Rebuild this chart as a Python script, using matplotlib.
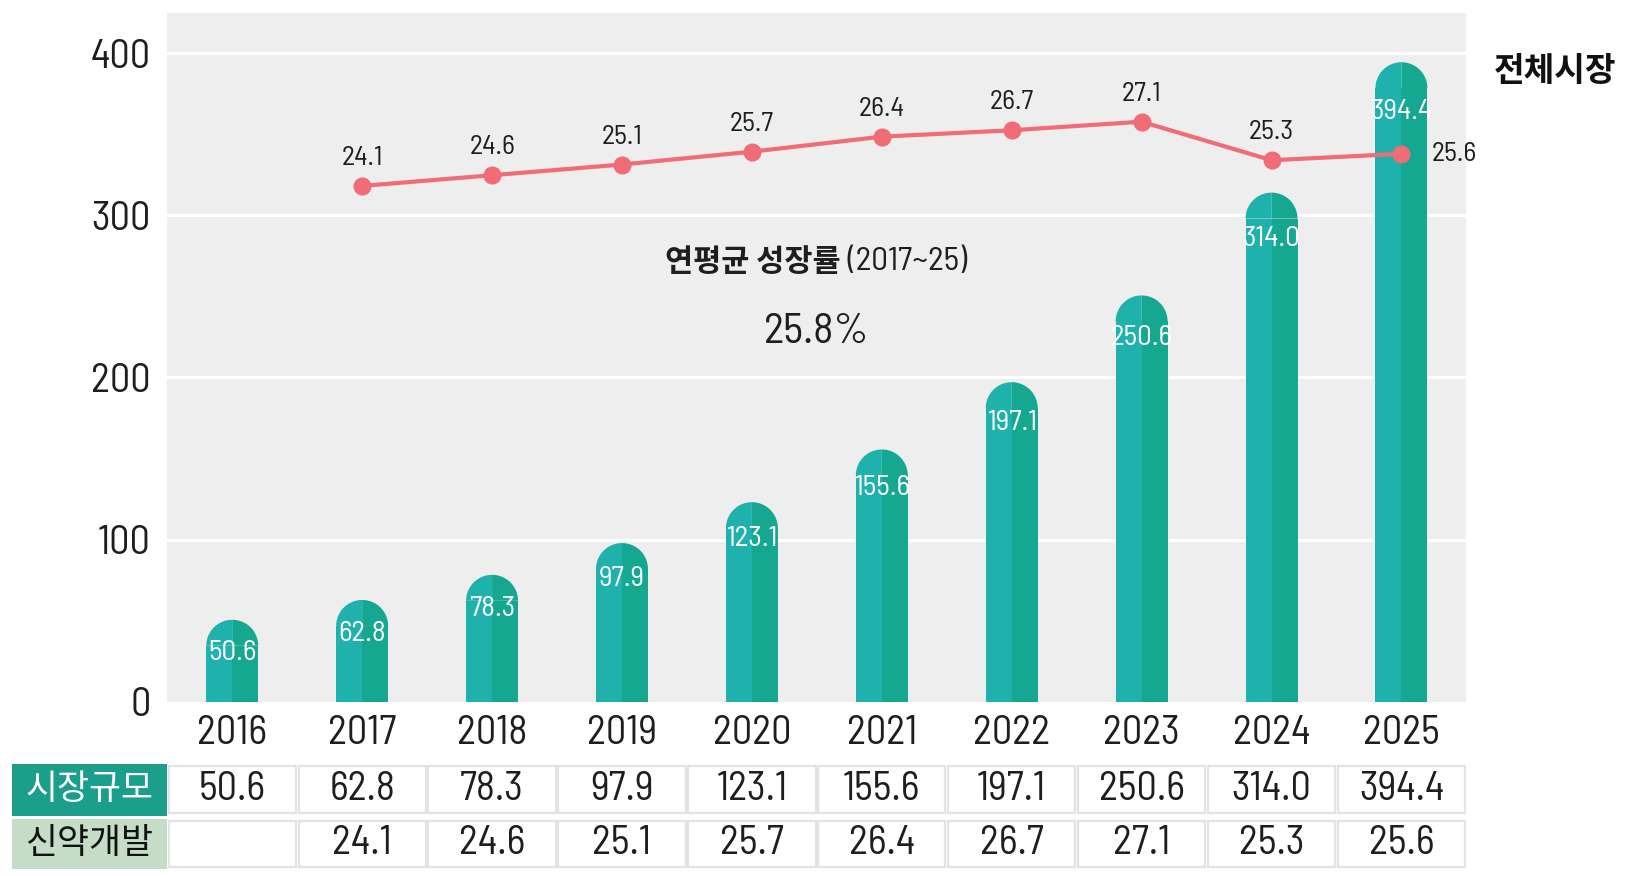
import matplotlib as ml
ml.use('Agg')
import numpy as np
import matplotlib.pyplot as plt
from matplotlib.patches import Polygon, Rectangle
from matplotlib.transforms import blended_transform_factory

num_font = ['Barlow Semi Condensed', 'Noto Sans CJK KR', 'DejaVu Sans']
kr_font = ['Noto Sans CJK KR', 'DejaVu Sans']
plt.rcParams['font.family'] = num_font

# Data
years = ['2016', '2017', '2018', '2019', '2020', '2021', '2022', '2023', '2024', '2025']
market = [50.6, 62.8, 78.3, 97.9, 123.1, 155.6, 197.1, 250.6, 314.0, 394.4]
drug_years = ['2017', '2018', '2019', '2020', '2021', '2022', '2023', '2024', '2025']
drug_share = [24.1, 24.6, 25.1, 25.7, 26.4, 26.7, 27.1, 25.3, 25.6]
row_labels = ['시장규모', '신약개발']
yticks = [0, 100, 200, 300, 400]

# Colours
bg = '#eeeeee'
bar_left = '#1fb1ab'
bar_right = '#16a790'
line_col = '#f06c76'
lab1_col = '#1b9e8b'
lab2_col = '#c5dcc7'
txt_col = '#1e1e1e'

W, H = 1640, 876
fig = plt.figure(figsize=(W / 100, H / 100), dpi=100)
ax_l, ax_r, ax_t, ax_b = 167.3, 1466.4, 12.6, 701.8
ax = fig.add_axes([ax_l / W, 1 - ax_b / H, (ax_r - ax_l) / W, (ax_b - ax_t) / H])
ax.set_facecolor(bg)
ax.set_xlim(-0.5, len(years) - 0.5)
ax.set_ylim(0, 425)
for s in ax.spines.values():
    s.set_visible(False)
ax.set_yticks(yticks)
ax.set_yticklabels([str(t) for t in yticks], fontsize=29, color=txt_col)
ax.tick_params(axis='y', length=0, pad=12)
ax.set_xticks([])
for t in yticks[1:]:
    ax.axhline(t, color='white', lw=2.2, zorder=1)

# rounded bars, left half lighter and right half darker
x = np.arange(len(years))
bw = 0.4
rx = bw / 2
px_per_x = (ax_r - ax_l) / len(years)
px_per_y = (ax_b - ax_t) / 425
ry = rx * px_per_x / px_per_y
th_l = np.linspace(np.pi / 2, np.pi, 30)
th_r = np.linspace(0, np.pi / 2, 30)
for xi, v in zip(x, market):
    base = v - ry
    ax.add_patch(Rectangle((xi - rx, 0), rx, base, color=bar_left, lw=0, zorder=2))
    ax.add_patch(Rectangle((xi, 0), rx, base, color=bar_right, lw=0, zorder=2))
    pl = np.column_stack([np.r_[xi, xi + rx * np.cos(th_l), xi],
                          np.r_[base + ry, base + ry * np.sin(th_l), base]])
    pr = np.column_stack([np.r_[xi, xi + rx * np.cos(th_r), xi],
                          np.r_[base, base + ry * np.sin(th_r), base + ry]])
    ax.add_patch(Polygon(pl, closed=True, color=bar_left, lw=0, zorder=2))
    ax.add_patch(Polygon(pr, closed=True, color=bar_right, lw=0, zorder=2))
    ax.text(xi, v - (19 + 0.03 * v), f'{v:.1f}', ha='center', va='center', color='white',
            fontsize=21, zorder=5)

# line on a hidden secondary axis
ax2 = ax.twinx()
ax2.set_ylim(0, 425 / 13.2)
ax2.axis('off')
xl = [years.index(y) for y in drug_years]
ax2.plot(xl, drug_share, color=line_col, lw=3, marker='o', ms=12, zorder=4)
for i, (xi, v) in enumerate(zip(xl, drug_share)):
    if i == len(xl) - 1:
        ax2.annotate(f'{v:.1f}', (xi, v), xytext=(22, 0), textcoords='offset points',
                     ha='left', va='center', fontsize=20, color=txt_col)
    else:
        ax2.annotate(f'{v:.1f}', (xi, v), xytext=(0, 20), textcoords='offset points',
                     ha='center', va='center', fontsize=20, color=txt_col)

ax.text(0.5186, 0.638, '연평균 성장률', transform=ax.transAxes, ha='right', va='center',
        fontsize=22, fontweight='bold', family=kr_font, color=txt_col)
ax.text(0.5186, 0.638, ' (2017~25)', transform=ax.transAxes, ha='left', va='center',
        fontsize=24, color=txt_col)
ax.text(0.500, 0.536, '25.8%', transform=ax.transAxes, ha='center', va='center',
        fontsize=31, color=txt_col)

fig.text(1555 / W, 1 - 72 / H, '전체시장', ha='center', va='center', fontsize=24,
         fontweight='bold', family=kr_font, color='#111111')

# table under the chart
def fy(py):
    return (ax_b - py) / (ax_b - ax_t)

tr = blended_transform_factory(ax.transData, ax.transAxes)
for xi, y in zip(x, years):
    ax.text(xi, fy(734), y, transform=tr, ha='center', va='center', fontsize=29,
            color=txt_col, clip_on=False)

rows = [(763.5, 815.5, [f'{v:.1f}' for v in market], lab1_col, 'white'),
        (818.5, 869.0, [''] + [f'{v:.1f}' for v in drug_share], lab2_col, '#111111')]
lab_x0 = -0.5 - (ax_l - 12.5) / px_per_x
for (top, bot, vals, lcol, tcol), lab in zip(rows, row_labels):
    y0, y1 = fy(bot), fy(top)
    ax.add_patch(Rectangle((lab_x0, y0), -0.5 - lab_x0, y1 - y0, transform=tr,
                           color=lcol, lw=0, clip_on=False))
    ax.text((lab_x0 - 0.5) / 2, (y0 + y1) / 2, lab, transform=tr, ha='center',
            va='center', fontsize=25, color=tcol, family=kr_font, clip_on=False)
    for xi, s in zip(x, vals):
        ax.add_patch(Rectangle((xi - 0.49, y0 + 0.003), 0.98, y1 - y0 - 0.006, transform=tr,
                               facecolor='white', edgecolor='#e3e3e3', lw=1.6, clip_on=False))
        ax.text(xi, (y0 + y1) / 2, s, transform=tr, ha='center', va='center',
                fontsize=29, color=txt_col, clip_on=False)

fig.savefig('out.png', dpi=100)
